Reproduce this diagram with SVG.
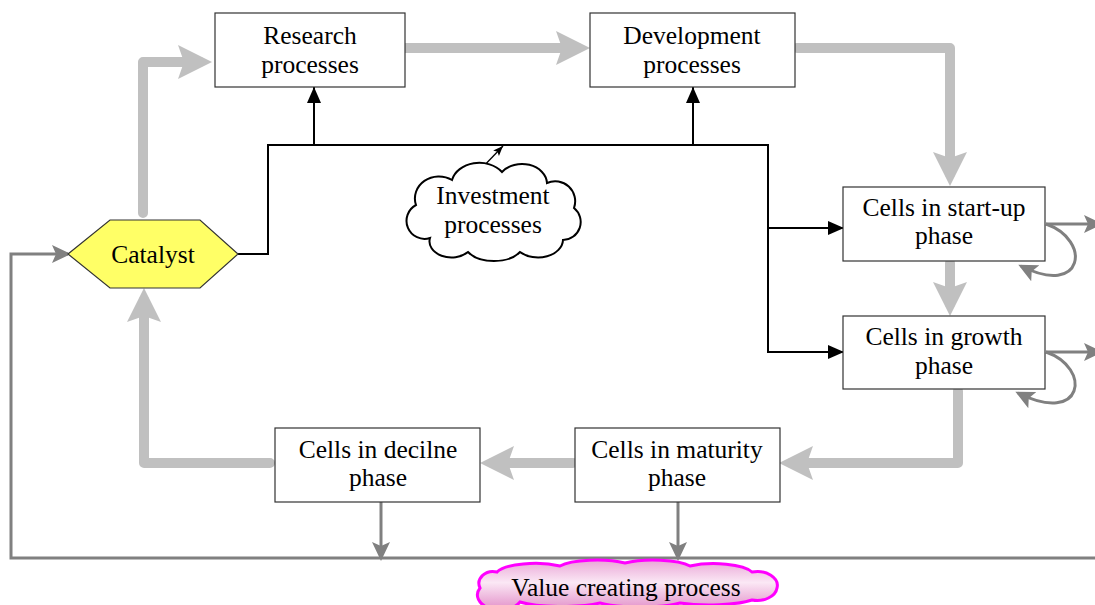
<svg xmlns="http://www.w3.org/2000/svg" width="1095" height="605" viewBox="0 0 1095 605">
<style>
.box{fill:#fff;stroke:#333;stroke-width:1.2}
.t{font-family:"Liberation Serif","Times New Roman",serif;font-size:25.5px;fill:#000;text-anchor:middle}
.thick{fill:none;stroke:#c0c0c0;stroke-width:10;stroke-linecap:round;stroke-linejoin:round}
.dg{fill:none;stroke:#808080;stroke-width:3}
.blk{fill:none;stroke:#000;stroke-width:2}
</style>
<defs>
<marker id="mBig" markerUnits="userSpaceOnUse" markerWidth="40" markerHeight="40" refX="22" refY="17" orient="auto">
<path d="M0,0 L34,17 L0,34 L6,17 Z" fill="#c0c0c0"/>
</marker>
<marker id="mGray" markerUnits="userSpaceOnUse" markerWidth="24" markerHeight="24" refX="16" refY="9" orient="auto">
<path d="M0,0 L19,9 L0,18 L4,9 Z" fill="#808080"/>
</marker>
<marker id="mBlk" markerUnits="userSpaceOnUse" markerWidth="20" markerHeight="20" refX="16" refY="7" orient="auto">
<path d="M0,0 L16,7 L0,14 Z" fill="#000"/>
</marker>
<marker id="mSmall" markerUnits="userSpaceOnUse" markerWidth="14" markerHeight="14" refX="10" refY="4" orient="auto">
<path d="M0,0 L10,4 L0,8 L2,4 Z" fill="#000"/>
</marker>
<linearGradient id="pink" x1="0" y1="0" x2="0" y2="1">
<stop offset="0" stop-color="#e9a6d6"/>
<stop offset="0.45" stop-color="#fbe8f5"/>
<stop offset="1" stop-color="#e28fc8"/>
</linearGradient>
</defs>

<g id="connectors">
<path class="thick" d="M143,213 L143,62 L200,62" marker-end="url(#mBig)"/>
<path class="thick" d="M405,48 L578,48" marker-end="url(#mBig)"/>
<path class="thick" d="M797,48 L950,48 L950,174" marker-end="url(#mBig)"/>
<path class="thick" d="M950,263 L950,304" marker-end="url(#mBig)"/>
<path class="thick" d="M958,391 L958,463 L791,463" marker-end="url(#mBig)"/>
<path class="thick" d="M573,463 L492,463" marker-end="url(#mBig)"/>
<path class="thick" d="M270,463 L144,463 L144,300" marker-end="url(#mBig)"/>
<path class="blk" d="M238,254 L268,254 L268,145 L768,145 L768,352 L844,352" marker-end="url(#mBlk)"/>
<path class="blk" d="M768,228 L844,228" marker-end="url(#mBlk)"/>
<path class="blk" d="M314,145 L314,87" marker-end="url(#mBlk)"/>
<path class="blk" d="M693,145 L693,87" marker-end="url(#mBlk)"/>
<path d="M478,172 L503,146" fill="none" stroke="#000" stroke-width="1.3" marker-end="url(#mSmall)"/>
<path class="dg" d="M381,502 L381,558" marker-end="url(#mGray)"/>
<path class="dg" d="M678,502 L678,558" marker-end="url(#mGray)"/>
<path class="dg" d="M1095,558 L11,558 L11,254 L68,254" marker-end="url(#mGray)"/>
<path class="dg" d="M1046,224 L1100,224" marker-end="url(#mGray)"/>
<path class="dg" d="M1046,224 C1092,240 1084,298 1021,266" marker-end="url(#mGray)"/>
<path class="dg" d="M1046,352 L1100,352" marker-end="url(#mGray)"/>
<path class="dg" d="M1046,352 C1092,368 1084,426 1018,393" marker-end="url(#mGray)"/>
</g>

<g id="research">
<rect class="box" x="215" y="13" width="190" height="74"/>
<text class="t" x="310" y="44"><tspan x="310">Research</tspan><tspan x="310" dy="28.5">processes</tspan></text>
</g>
<g id="development">
<rect class="box" x="590" y="13" width="205" height="74"/>
<text class="t" x="692" y="44"><tspan x="692">Development</tspan><tspan x="692" dy="28.5">processes</tspan></text>
</g>
<g id="startup">
<rect class="box" x="843" y="187" width="202" height="74"/>
<text class="t" x="944" y="215.5"><tspan x="944">Cells in start-up</tspan><tspan x="944" dy="28.5">phase</tspan></text>
</g>
<g id="growth">
<rect class="box" x="843" y="316" width="202" height="73"/>
<text class="t" x="944" y="345"><tspan x="944">Cells in growth</tspan><tspan x="944" dy="28.5">phase</tspan></text>
</g>
<g id="maturity">
<rect class="box" x="575" y="428" width="205" height="74"/>
<text class="t" x="677" y="457.5"><tspan x="677">Cells in maturity</tspan><tspan x="677" dy="28.5">phase</tspan></text>
</g>
<g id="decline">
<rect class="box" x="275" y="428" width="205" height="74"/>
<text class="t" x="378" y="457.5"><tspan x="378">Cells in decilne</tspan><tspan x="378" dy="28.5">phase</tspan></text>
</g>
<g id="catalyst">
<polygon points="68,254 110,220 200,220 238,254 200,288 110,288" fill="#ffff66" stroke="#333" stroke-width="1.2"/>
<text class="t" x="153" y="262.5">Catalyst</text>
</g>
<g id="investment">
<path d="M430,238 A18,18 0 0 1 416,205 A24,22 0 0 1 452,180 A28,22 0 0 1 502,172 A25,20 0 0 1 547,183 A20,20 0 0 1 574,208 A18,18 0 0 1 563,240 A25,18 0 0 1 520,252 A30,18 0 0 1 468,252 A22,16 0 0 1 430,238 Z" fill="#fff" stroke="#000" stroke-width="2"/>
<text class="t" x="493" y="204"><tspan x="493">Investment</tspan><tspan x="493" dy="28.5">processes</tspan></text>
</g>
<g id="value">
<path d="M480,588 A14,12 0 0 1 497,572 A40,12 0 0 1 560,566 A40,10 0 0 1 625,563 A40,10 0 0 1 690,566 A40,12 0 0 1 752,572 A20,14 0 0 1 777,588 A20,14 0 0 1 752,600 A50,10 0 0 1 680,603 A50,10 0 0 1 600,603 A50,10 0 0 1 520,602 A18,12 0 0 1 480,588 Z" fill="url(#pink)" stroke="#ff00ff" stroke-width="3"/>
<text class="t" x="626" y="596">Value creating process</text>
</g>
</svg>
